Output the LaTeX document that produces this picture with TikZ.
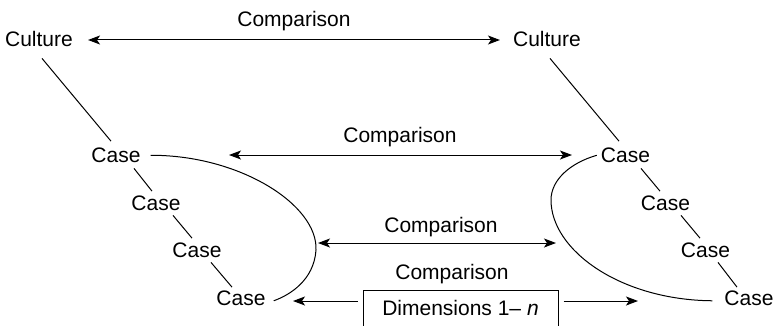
\documentclass[tikz,border=0pt]{standalone}
\usepackage{fontspec}
\setmainfont{Liberation Sans}
\usetikzlibrary{arrows.meta}
\begin{document}
\begin{tikzpicture}[x=1pt,y=-1pt,
  every node/.style={font=\fontsize{21}{25}\selectfont, inner sep=0pt},
  lbl/.style={anchor=base},
  link/.style={line width=1pt},
  cmp/.style={line width=1pt, -{Stealth[length=12pt,width=9pt,inset=3pt]}},
  cmpboth/.style={line width=1pt, {Stealth[length=12pt,width=9pt,inset=3pt]}-{Stealth[length=12pt,width=9pt,inset=3pt]}},
  dimbox/.style={draw, line width=1pt, anchor=north, minimum width=195pt,
    text height=15pt, text depth=20pt, inner ysep=10pt}]
\useasboundingbox (0,0) rectangle (776,325);
\clip (0,0) rectangle (776,325);

% cultures
\node[lbl] (cultL) at (39,46) {Culture};
\node[lbl] (cultR) at (547,46) {Culture};

% left chain of cases
\node[lbl] (L1) at (116,162.5) {Case};
\node[lbl] (L2) at (156,210.5) {Case};
\node[lbl] (L3) at (197,257.5) {Case};
\node[lbl] (L4) at (241,305) {Case};

% right chain of cases
\node[lbl] (R1) at (625.5,162.5) {Case};
\node[lbl] (R2) at (665.5,210.5) {Case};
\node[lbl] (R3) at (705.5,257.5) {Case};
\node[lbl] (R4) at (749,305) {Case};

% comparison labels
\node[lbl] (cmpTop) at (294,26) {Comparison};
\node[lbl] (cmpA) at (400,142) {Comparison};
\node[lbl] (cmpB) at (441,232) {Comparison};
\node[lbl] (cmpC) at (452,279) {Comparison};

% dimensions box (open at the bottom edge)
\node[dimbox] (dim) at (460.5,290) {Dimensions 1– \textit{n}};

% culture to first case
\draw[link] ([shift={(3,12)}]cultL.south) -- ([shift={(-5,-6.5)}]L1.north);
\draw[link] ([shift={(3,12)}]cultR.south) -- ([shift={(-6.5,-6.5)}]R1.north);

% chains
\draw[link] ([shift={(18,5.5)}]L1.south) -- ([shift={(-4,-4.5)}]L2.north);
\draw[link] ([shift={(17,4.5)}]L2.south) -- ([shift={(-5,-4.5)}]L3.north);
\draw[link] ([shift={(14,4.5)}]L3.south) -- ([shift={(-9,-3)}]L4.north);
\draw[link] ([shift={(15.5,5.5)}]R1.south) -- ([shift={(-5.5,-4.5)}]R2.north);
\draw[link] ([shift={(15.5,4.5)}]R2.south) -- ([shift={(-5.5,-4.5)}]R3.north);
\draw[link] ([shift={(12.5,4.5)}]R3.south) -- ([shift={(-12,-3)}]R4.north);

% grouping curves
\draw[link] ([xshift=10pt]L1.east) .. controls (240,155) and (318,205) .. (316,250)
  .. controls (314,280) and (290,295) .. ([shift={(8,3)}]L4.east);
\draw[link] ([shift={(-4,0)}]R1.west) .. controls (570,163) and (551,180) .. (551,200)
  .. controls (551,250) and (620,300) .. ([shift={(-12,3)}]R4.west);

% comparison arrows
\coordinate (m1l) at (229,155);
\coordinate (m1r) at (572,155);
\coordinate (m2l) at (318,243);
\coordinate (m2r) at (556,243);
\coordinate (bl) at (293,301);
\coordinate (br) at (638,301);

\draw[cmpboth] ([shift={(15,1.5)}]cultL.east) -- ([shift={(-13,1.5)}]cultR.west);
\draw[cmpboth] (m1l) -- (m1r);
\draw[cmpboth] (m2l) -- (m2r);
\draw[cmp] ([shift={(-5,11)}]dim.north west) -- (bl);
\draw[cmp] ([shift={(5,11)}]dim.north east) -- (br);
\end{tikzpicture}
\end{document}
